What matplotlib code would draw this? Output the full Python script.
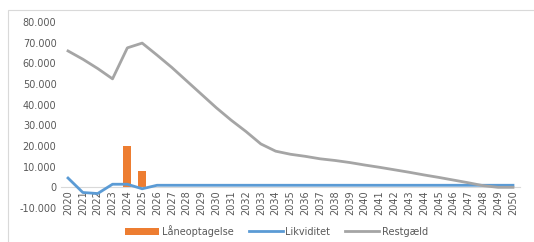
"""
Laaneoptagelse, likviditet og restgaeld 2020-2050
"""
import matplotlib
matplotlib.use('Agg')
import matplotlib.pyplot as plt
from matplotlib.ticker import FuncFormatter
from matplotlib.patches import Rectangle

# data
years = [str(y) for y in range(2020, 2051)]
laan = [0, 0, 0, 0, 20000, 7700] + [0] * 25
likviditet = [4500, -2500, -3000, 1500, 1500, -700, 1000, 1000, 1000, 1000,
              1000, 1000, 1000, 1000, 1000, 1000, 1000, 1000, 1000, 1000,
              1000, 1000, 1000, 1000, 1000, 1000, 1000, 1000, 1000, 1000, 1000]
restgaeld = [66000, 62000, 57500, 52500, 67500, 69800, 64000, 58000, 51500, 45000,
             38500, 32500, 27000, 21000, 17500, 16000, 15000, 13800, 13000, 12000,
             10800, 9700, 8500, 7300, 6000, 4800, 3500, 2200, 800, 0, 0]

fig = plt.figure(figsize=(5.34, 2.42), dpi=100)
ax = fig.add_axes([0.1135, 0.1405, 0.861, 0.7685])

fig.patches.append(Rectangle((8 / 534, -0.1), 1.2, 1 - 10 / 242 + 0.1, transform=fig.transFigure,
                             fill=False, edgecolor='#d9d9d9', linewidth=0.8))

x = list(range(len(years)))
b = ax.bar(x, laan, width=0.55, color='#ed7d31', label='Låneoptagelse', zorder=2)
l1, = ax.plot(x, likviditet, color='#5b9bd5', linewidth=2, label='Likviditet', zorder=3)
l2, = ax.plot(x, restgaeld, color='#a5a5a5', linewidth=2, label='Restgæld', zorder=3)

ax.set_xlim(-0.5, len(years) - 0.5)
ax.set_ylim(-10000, 80000)
ax.set_yticks(range(-10000, 80001, 10000))
ax.yaxis.set_major_formatter(FuncFormatter(lambda v, p: f'{int(v):,}'.replace(',', '.')))
ax.set_xticks(x)
ax.set_xticklabels(years)

for s in ['top', 'right', 'left']:
    ax.spines[s].set_visible(False)
ax.spines['bottom'].set_position(('data', 0))
ax.spines['bottom'].set_color('#d9d9d9')
ax.tick_params(axis='both', length=0, labelsize=7, colors='#595959', pad=3)
ax.tick_params(axis='x', labelrotation=90, pad=2)

ax.legend(handles=[b, l1, l2], loc='upper center', bbox_to_anchor=(0.47, -0.065), ncol=3,
          frameon=False, fontsize=7, labelcolor='#595959', handlelength=3.5,
          columnspacing=1.5, borderpad=0, handletextpad=0.3)

plt.savefig('out.png', dpi=100)
